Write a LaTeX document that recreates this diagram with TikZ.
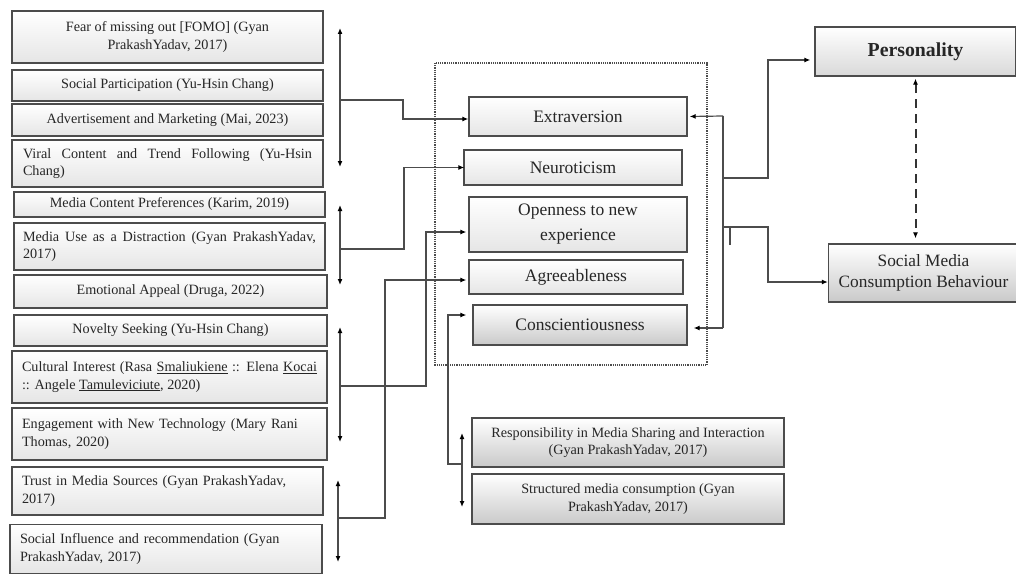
\documentclass[tikz,border=0pt]{standalone}
\usepackage{fontspec}
\setmainfont{Liberation Serif}
\usetikzlibrary{arrows.meta,calc}
\newcommand{\lf}{\fontsize{14.2}{17.5}\selectfont}
\newcommand{\mf}{\fontsize{17.5}{22}\selectfont}
\begin{document}
\begin{tikzpicture}[x=1pt,y=-1pt,
  box/.style={draw=gray!60!black, line width=1.3pt, top color=white, bottom color=gray!20, inner sep=0pt, text=black!85, font=\lf, align=center},
  dbox/.style={box, top color=white, bottom color=gray!42},
  lbox/.style={box, text width=#1, align=left},
  jbox/.style={box, text width=#1, align=justify},
  mbox/.style={box, font=\mf},
  conn/.style={draw=gray!60!black, line width=1.2pt},
  arr/.style={conn, -{Latex[length=6pt,width=5pt,black]}},
  darr/.style={conn, {Latex[length=6pt,width=5pt,black]}-{Latex[length=6pt,width=5pt,black]}},
]
\useasboundingbox (0,0) rectangle (1016,575);
\fill[white] (0,0) rectangle (1016,575);

% left boxes
\node[box, minimum width=311pt, minimum height=52pt] (l1) at (167.5,37) {Fear of missing out [FOMO] (Gyan\\ PrakashYadav, 2017)};
\node[box, minimum width=311pt, minimum height=31pt] (l2) at (167.5,85.5) {Social Participation (Yu-Hsin Chang)};
\node[box, minimum width=311pt, minimum height=32pt] (l3) at (167.5,120) {Advertisement and Marketing (Mai, 2023)};
\node[jbox=289pt, minimum width=311pt, minimum height=47pt] (l4) at (167.5,163.5) {Viral Content and Trend Following (Yu-Hsin\linebreak Chang)};
\node[box, minimum width=311pt, minimum height=25pt] (l5) at (169.5,204.5) {Media Content Preferences (Karim, 2019)};
\node[jbox=293pt, minimum width=311pt, minimum height=47pt] (l6) at (169.5,246.5) {Media Use as a Distraction (Gyan PrakashYadav,\linebreak 2017)};
\node[box, minimum width=313pt, minimum height=33pt] (l7) at (170.5,291.5) {Emotional Appeal (Druga, 2022)};
\node[box, minimum width=313pt, minimum height=31pt] (l8) at (170.5,330.5) {Novelty Seeking (Yu-Hsin Chang)};
\node[jbox=295pt, minimum width=315pt, minimum height=52pt] (l9) at (169.5,377) {Cultural Interest (Rasa \underline{Smaliukiene} :: Elena \underline{Kocai}\linebreak :: Angele \underline{Tamuleviciute}, 2020)};
\node[lbox=295pt, minimum width=315pt, minimum height=52pt] (l10) at (169.5,434) {Engagement with New Technology (Mary Rani\\ Thomas, 2020)};
\node[lbox=291pt, minimum width=311pt, minimum height=48pt] (l11) at (167.5,491) {Trust in Media Sources (Gyan PrakashYadav,\\ 2017)};
\node[lbox=292pt, minimum width=312pt, minimum height=49pt] (l12) at (166,549) {Social Influence and recommendation (Gyan\\ PrakashYadav, 2017)};

% dotted frame
\draw[draw=gray!60!black, line width=1.2pt, densely dotted] (435,63) rectangle (707,365);

% middle boxes
\node[mbox, minimum width=218pt, minimum height=39pt] (e) at (578,116.5) {Extraversion};
\node[mbox, minimum width=218pt, minimum height=35pt] (n) at (573,167.5) {Neuroticism};
\node[mbox, minimum width=218pt, minimum height=55pt, font=\fontsize{17.5}{25}\selectfont] (o) at (578,224.5) {Openness to new\\ experience};
\node[mbox, minimum width=214pt, minimum height=34pt] (a) at (576,277) {Agreeableness};
\node[mbox, dbox, font=\mf, minimum width=214pt, minimum height=40pt] (c) at (580,325) {Conscientiousness};

% bottom boxes
\node[dbox, minimum width=312pt, minimum height=49pt] (r) at (628,442.5) {Responsibility in Media Sharing and Interaction\\ (Gyan PrakashYadav, 2017)};
\node[dbox, minimum width=312pt, minimum height=50pt] (sm) at (628,499) {Structured media consumption (Gyan\\ PrakashYadav, 2017)};

% right boxes
\node[box, top color=white, bottom color=gray!30, minimum width=201pt, minimum height=49pt, font=\bfseries\fontsize{19.8}{22}\selectfont] (p) at (915.5,51.5) {Personality};
\node[dbox, minimum width=190pt, minimum height=58pt, font=\fontsize{17.3}{21}\selectfont] (s) at (923.5,273) {Social Media\\ Consumption Behaviour};

% left double arrows
\coordinate (a1t) at (340,28); \coordinate (a1b) at (340,167);
\coordinate (a2t) at (340,205); \coordinate (a2b) at (340,285);
\coordinate (a3t) at (340,327); \coordinate (a3b) at (340,442);
\coordinate (a4t) at (338,480); \coordinate (a4b) at (338,562);
\draw[darr] (a1t) -- (a1b);
\draw[darr] (a2t) -- (a2b);
\draw[darr] (a3t) -- (a3b);
\draw[darr] (a4t) -- (a4b);
\coordinate (b1) at (340,100);
\coordinate (b2) at (340,249);
\coordinate (b3) at (340,386);
\coordinate (b4) at (338,518);
\draw[arr] (b1) -- (403,100) |- ([yshift=-2.5pt]e.west);
\draw[arr] (b2) -- (404,249) |- ([xshift=1pt]n.west);
\draw[arr] (b3) -- (426,386) |- ([yshift=-7.5pt,xshift=-2pt]o.west);
\draw[arr] (b4) -- (385,518) |- ([yshift=-3pt,xshift=-2pt]a.west);

% bottom double arrow and link to conscientiousness
\coordinate (rt) at (462,433); \coordinate (rb) at (462,507);
\draw[darr] (rt) -- (rb);
\coordinate (b5) at (462,464);
\draw[arr] (b5) -- (448,464) |- ([yshift=10pt,xshift=-6pt]c.west);

% right connector
\coordinate (rc) at (723,116);
\coordinate (rc2) at (723,328);
\draw[conn] (rc) -- (rc2);
\draw[arr] (rc) -- ([xshift=2pt]e.east);
\draw[arr] (rc2) -- ([xshift=6pt,yshift=-3pt]c.east);
\coordinate (bp) at (723,178);
\coordinate (bs) at (723,227);
\draw[arr] (bp) -- (768,178) |- ([yshift=-8.5pt,xshift=-4pt]p.west);
\draw[arr] (bs) -- (768,227) |- ([yshift=-9pt]s.west);
\draw[conn] (730,227) -- (730,245);

% dashed double arrow
\draw[conn, draw=black!80, line width=2pt, dash pattern=on 9pt off 6pt, {Latex[length=6pt,width=5pt,black]}-{Latex[length=6pt,width=5pt,black]}] ([yshift=-2pt]p.south) -- ([yshift=5pt]p.south |- s.north);
\end{tikzpicture}
\end{document}
